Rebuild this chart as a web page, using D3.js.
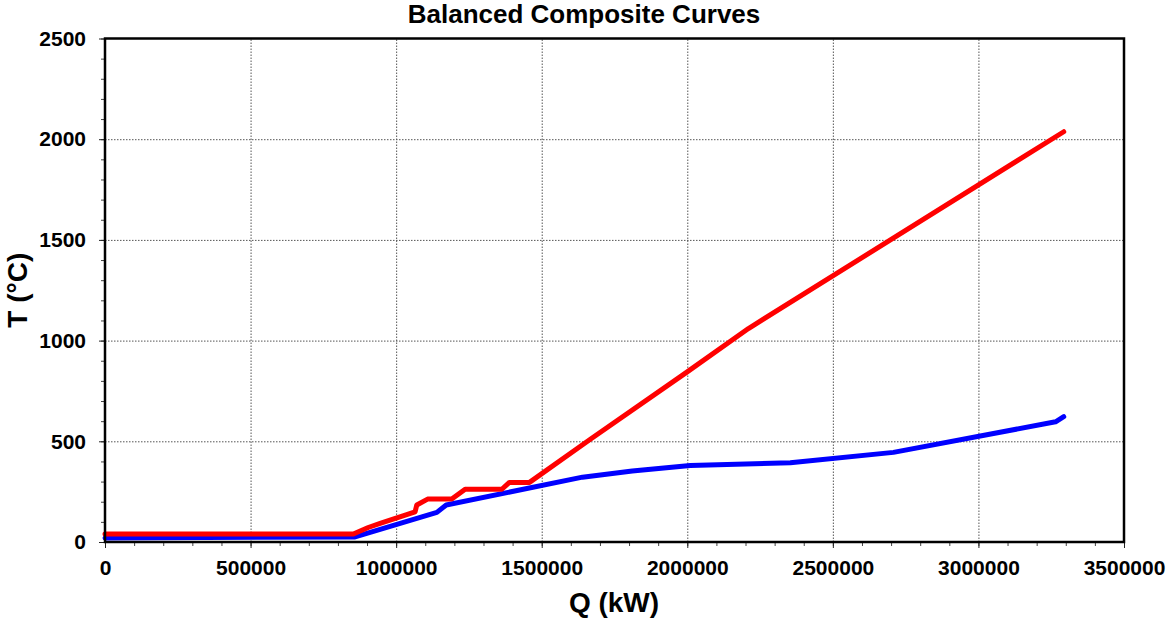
<!DOCTYPE html>
<html>
<head>
<meta charset="utf-8">
<script src="https://cdn.jsdelivr.net/npm/d3@7"></script>
<style>
  html, body { margin: 0; padding: 0; background: #fff; }
  svg { display: block; font-family: "Liberation Sans", Arial, sans-serif; }
</style>
</head>
<body>
<svg id="chart" width="1166" height="619"></svg>
<script>
// Hot composite curve (Q in kW, T in °C)
const hotQ = [0, 853000, 904000, 945000, 1065000, 1071000, 1108000, 1191000, 1237000, 1363000, 1389000, 1458000, 1667000, 2001000, 2210000, 3293000];
const hotT = [40, 40, 72, 92, 150, 184, 213, 213, 262, 262, 296, 296, 510, 846, 1060, 2037];

// Cold composite curve
const coldQ = [0, 859000, 1140000, 1172000, 1640000, 1811000, 2010000, 2354000, 2708000, 3265000, 3293000];
const coldT = [20, 25, 147, 184, 322, 353, 380, 394, 445, 597, 622];

// Axis ticks
const xTicks = [0, 500000, 1000000, 1500000, 2000000, 2500000, 3000000, 3500000];
const yTicks = [0, 500, 1000, 1500, 2000, 2500];
const xMinor = d3.range(0, 3500001, 100000);
const yMinor = d3.range(0, 2501, 100);

const title = "Balanced Composite Curves";
const xTitle = "Q (kW)";
const yTitle = "T (°C)";

const svg = d3.select("#chart");
const L = 105, R = 1124, T = 38.5, B = 542;

const x = d3.scaleLinear().domain([0, 3500000]).range([L, R]);
const y = d3.scaleLinear().domain([0, 2500]).range([B, T]);

// Grid
const grid = svg.append("g").attr("class", "grid");
grid.append("g")
  .attr("transform", `translate(0,${B})`)
  .call(d3.axisBottom(x).tickValues(xTicks.slice(1, -1)).tickSize(-(B - T)).tickFormat(""))
  .call(g => g.select(".domain").remove())
  .call(g => g.selectAll("line").attr("stroke", "#555").attr("stroke-width", 1).attr("stroke-dasharray", "1.5,1.5"));
grid.append("g")
  .attr("transform", `translate(${L},0)`)
  .call(d3.axisLeft(y).tickValues(yTicks.slice(1, -1)).tickSize(-(R - L)).tickFormat(""))
  .call(g => g.select(".domain").remove())
  .call(g => g.selectAll("line").attr("stroke", "#555").attr("stroke-width", 1).attr("stroke-dasharray", "1.5,1.5"));

// Curves
const line = d3.line().x(d => x(d[0])).y(d => y(d[1]));
const hot = hotQ.map((q, i) => [q, hotT[i]]);
const cold = coldQ.map((q, i) => [q, coldT[i]]);

svg.append("path").datum(cold)
  .attr("d", line).attr("fill", "none").attr("stroke", "#0000ff")
  .attr("stroke-width", 5).attr("stroke-linejoin", "round").attr("stroke-linecap", "round");
svg.append("path").datum(hot)
  .attr("d", line).attr("fill", "none").attr("stroke", "#ff0000")
  .attr("stroke-width", 5).attr("stroke-linejoin", "round").attr("stroke-linecap", "round");

// Minor ticks
svg.append("g")
  .attr("transform", `translate(0,${B})`)
  .call(d3.axisBottom(x).tickValues(xMinor).tickSize(4).tickFormat(""))
  .call(g => g.select(".domain").remove())
  .call(g => g.selectAll("line").attr("stroke", "#444"));
svg.append("g")
  .attr("transform", `translate(${L},0)`)
  .call(d3.axisLeft(y).tickValues(yMinor).tickSize(4).tickFormat(""))
  .call(g => g.select(".domain").remove())
  .call(g => g.selectAll("line").attr("stroke", "#444"));

// Major ticks and labels
svg.append("g")
  .attr("transform", `translate(0,${B})`)
  .call(d3.axisBottom(x).tickValues(xTicks).tickSize(6).tickPadding(12).tickFormat(d3.format("d")))
  .call(g => g.select(".domain").remove())
  .call(g => g.selectAll("line").attr("stroke", "#222"))
  .call(g => g.selectAll("text").attr("font-size", 21).attr("font-weight", "bold").attr("fill", "#000")
    .attr("font-family", "Liberation Sans, Arial, sans-serif"));
svg.append("g")
  .attr("transform", `translate(${L},0)`)
  .call(d3.axisLeft(y).tickValues(yTicks).tickSize(6).tickPadding(13).tickFormat(d3.format("d")))
  .call(g => g.select(".domain").remove())
  .call(g => g.selectAll("line").attr("stroke", "#222"))
  .call(g => g.selectAll("text").attr("font-size", 21).attr("font-weight", "bold").attr("fill", "#000")
    .attr("font-family", "Liberation Sans, Arial, sans-serif"));

// Plot frame
svg.append("rect")
  .attr("x", L).attr("y", T).attr("width", R - L).attr("height", B - T)
  .attr("fill", "none").attr("stroke", "#000").attr("stroke-width", 2.5);

// Titles
svg.append("text")
  .attr("x", 584).attr("y", 23)
  .attr("text-anchor", "middle").attr("font-size", 26).attr("font-weight", "bold")
  .text(title);
svg.append("text")
  .attr("x", 614).attr("y", 612)
  .attr("text-anchor", "middle").attr("font-size", 28).attr("font-weight", "bold")
  .text(xTitle);
svg.append("text")
  .attr("transform", `translate(27,${(T + B) / 2}) rotate(-90)`)
  .attr("text-anchor", "middle").attr("font-size", 28).attr("font-weight", "bold")
  .text(yTitle);
</script>
</body>
</html>
